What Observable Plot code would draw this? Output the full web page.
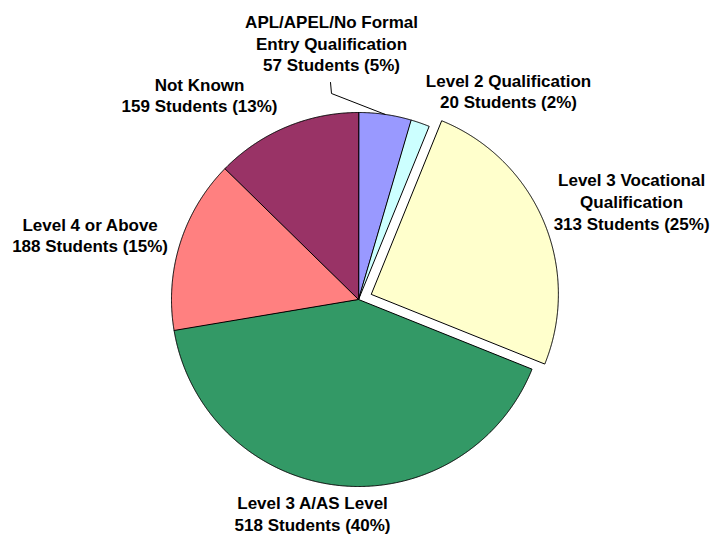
<!DOCTYPE html>
<html>
<head>
<meta charset="utf-8">
<script src="https://cdn.jsdelivr.net/npm/d3@7"></script>
<script src="https://cdn.jsdelivr.net/npm/@observablehq/plot@0.6"></script>
<style>
  html, body { margin: 0; padding: 0; background: #ffffff; }
  #chart { width: 714px; height: 535px; }
</style>
</head>
<body>
<div id="chart"></div>
<script>
// ---- Data ----
const categories = [
  "APL/APEL/No Formal Entry Qualification",
  "Level 2 Qualification",
  "Level 3 Vocational Qualification",
  "Level 3 A/AS Level",
  "Level 4 or Above",
  "Not Known"
];
const labelNames = [
  "APL/APEL/No Formal\nEntry Qualification",
  "Level 2 Qualification",
  "Level 3 Vocational\nQualification",
  "Level 3 A/AS Level",
  "Level 4 or Above",
  "Not Known"
];
const students = [57, 20, 313, 518, 188, 159];
const percents = [5, 2, 25, 40, 15, 13];
const colors = ["#9999FF", "#CCFFFF", "#FFFFCC", "#339966", "#FF8080", "#993366"];
const exploded = ["Level 3 Vocational Qualification"];

// ---- Layout (pixels of the 714x535 frame; pie in radius units) ----
const W = 714, H = 535;
const CX = 358, CY = 299, R = 187;
const explodeBy = 14 / R;
// label anchor: [angle in degrees clockwise from 12 o'clock, distance in radii]
const labelLayout = [
  [-6.07, 1.364],
  [36.05, 1.363],
  [70.74, 1.547],
  [191.99, 1.183],
  [282.98, 1.473],
  [321.78, 1.374]
];
// leader line for the first slice: [angle, distance] points, last point on the slice edge
const leaderLayout = [[-7.35, 1.170], [-7.47, 1.111]];

const rad = d => d * Math.PI / 180;
const polar = (a, r) => [r * Math.sin(a), r * Math.cos(a)];

const total = d3.sum(students);
let acc = 0;
const slices = categories.map((name, i) => {
  const a0 = acc / total * 2 * Math.PI;
  acc += students[i];
  const a1 = acc / total * 2 * Math.PI;
  const mid = (a0 + a1) / 2;
  const off = exploded.includes(name) ? polar(mid, explodeBy) : [0, 0];
  return {name, a0, a1, mid, off};
});

const polyData = [];
for (const s of slices) {
  polyData.push({name: s.name, x: s.off[0], y: s.off[1]});
  const n = Math.max(2, Math.ceil((s.a1 - s.a0) / rad(0.25)));
  for (let k = 0; k <= n; k++) {
    const a = s.a0 + (s.a1 - s.a0) * k / n;
    const [px, py] = polar(a, 1);
    polyData.push({name: s.name, x: px + s.off[0], y: py + s.off[1]});
  }
}

const labelData = categories.map((name, i) => {
  const [x, y] = polar(rad(labelLayout[i][0]), labelLayout[i][1]);
  return {x, y, text: `${labelNames[i]}\n${students[i]} Students (${percents[i]}%)`};
});

const leaderData = leaderLayout.map(([a, r]) => {
  const [x, y] = polar(rad(a), r);
  return {x, y};
});
{
  const [x, y] = polar(slices[0].mid, 1);
  leaderData.push({x, y});
}

const chart = Plot.plot({
  width: W,
  height: H,
  margin: 0,
  style: {background: "#ffffff", fontFamily: "'Liberation Sans', Arial, sans-serif"},
  x: {domain: [-CX / R, (W - CX) / R], range: [0, W], axis: null},
  y: {domain: [-(H - CY) / R, CY / R], range: [H, 0], axis: null},
  color: {domain: categories, range: colors},
  marks: [
    Plot.line(polyData, {
      x: "x", y: "y", z: "name", fill: "name",
      stroke: "#000000", strokeWidth: 1, curve: "linear-closed"
    }),
    Plot.line(leaderData, {x: "x", y: "y", stroke: "#000000", strokeWidth: 1}),
    Plot.text(labelData, {
      x: "x", y: "y", text: "text", dy: -3,
      fontSize: 17, fontWeight: "bold", fill: "#000000",
      lineHeight: 1.276, textAnchor: "middle",
      fontFamily: "'Liberation Sans', Arial, sans-serif"
    })
  ]
});
document.getElementById("chart").appendChild(chart);
</script>
</body>
</html>
